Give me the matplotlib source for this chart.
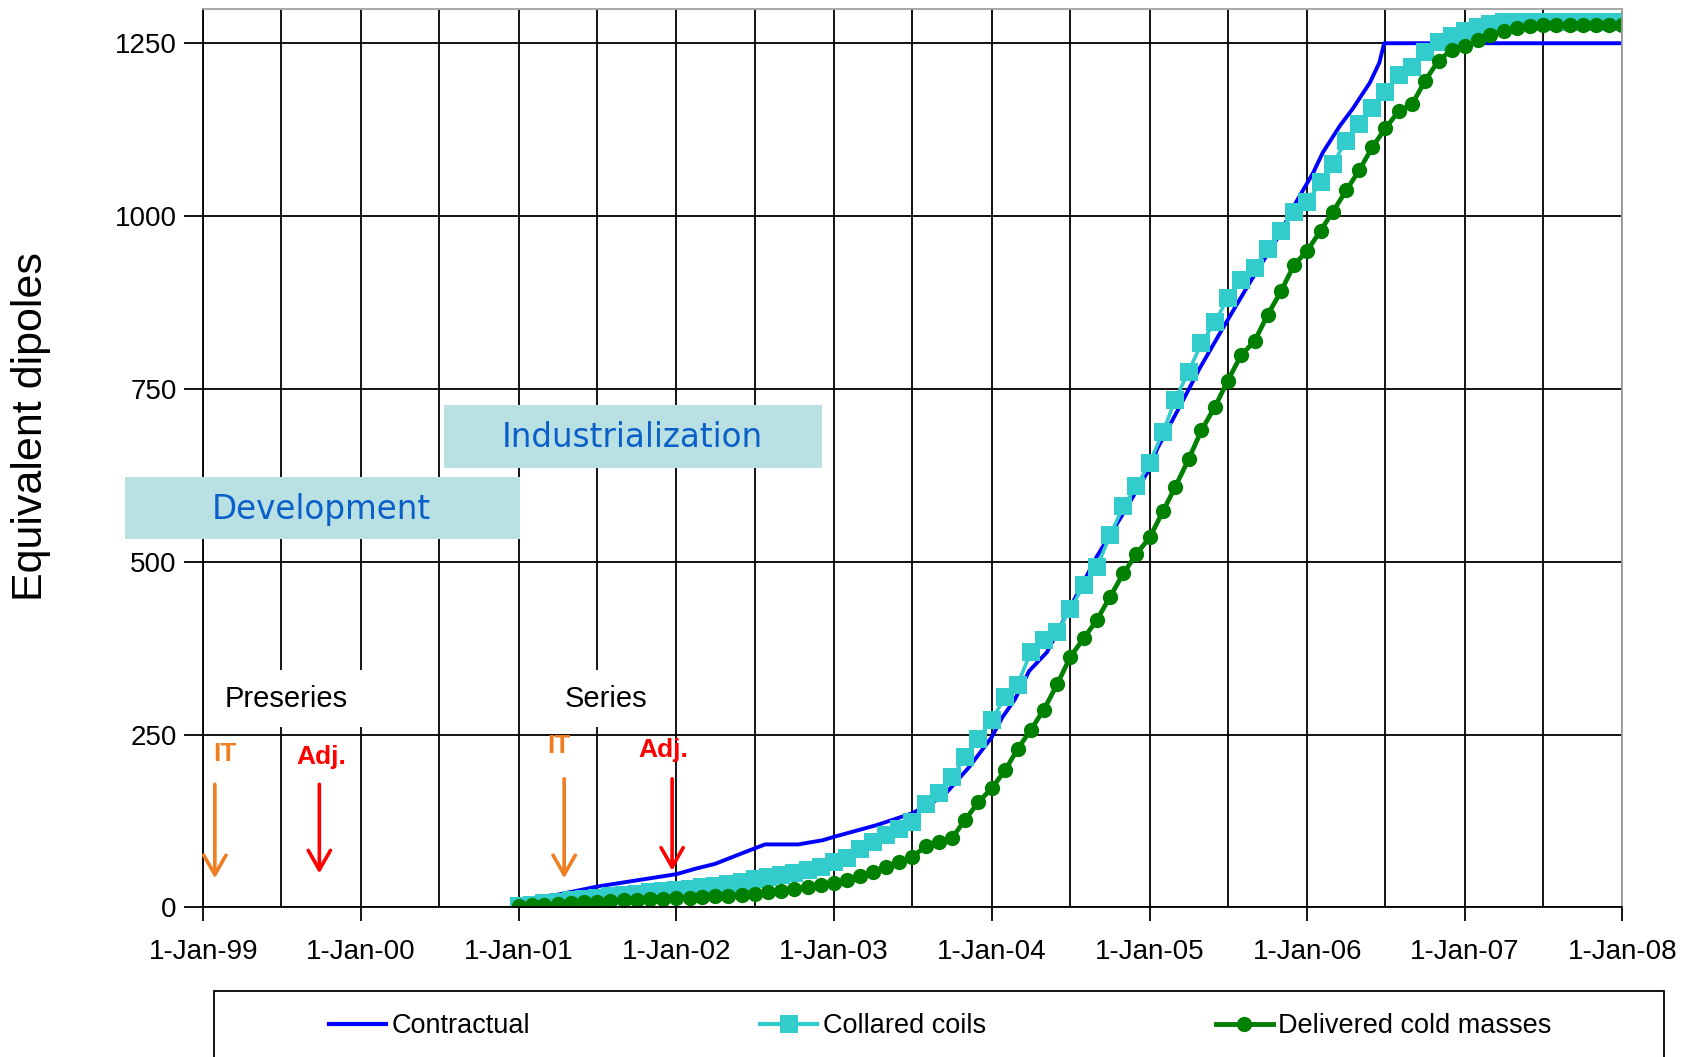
import matplotlib
matplotlib.use('Agg')
import matplotlib.pyplot as plt
import matplotlib.dates as mdates
from matplotlib.patches import Rectangle
from matplotlib.lines import Line2D
from matplotlib.ticker import FuncFormatter
import pandas as pd

plt.rcParams['font.family'] = ['Liberation Sans', 'DejaVu Sans']

# monthly points, Jan 2001 .. Jan 2008
months = pd.date_range('2001-01-01', '2008-01-01', freq='MS')

collared = [2, 4, 6, 8, 10, 12, 14, 16, 18, 20, 22, 23,
            25, 27, 29, 31, 34, 37, 41, 44, 47, 50, 54, 59,
            65, 72, 84, 94, 104, 113, 124, 150, 165, 188, 217, 244,
            271, 304, 322, 370, 386, 399, 431, 466, 492, 538, 580, 609,
            643, 688, 734, 775, 816, 847, 881, 907, 925, 953, 979, 1006,
            1021, 1049, 1075, 1109, 1133, 1156, 1179, 1204, 1215, 1237, 1252, 1260,
            1267, 1273, 1278, 1280, 1280, 1280, 1280, 1280, 1280, 1280, 1280, 1280,
            1280]

delivered = [2, 3, 4, 5, 6, 7, 8, 9, 10, 11, 12, 12,
             13, 14, 15, 16, 17, 18, 20, 22, 24, 27, 30, 33,
             35, 40, 45, 51, 58, 65, 73, 88, 95, 100, 127, 152,
             172, 198, 229, 257, 286, 323, 362, 389, 416, 449, 483, 511,
             535, 573, 608, 648, 690, 724, 762, 799, 819, 857, 891, 929,
             950, 979, 1006, 1037, 1066, 1100, 1127, 1152, 1162, 1196, 1225, 1240,
             1246, 1254, 1262, 1268, 1272, 1275, 1276, 1276, 1277, 1277, 1277, 1277,
             1277]

contract_dates = ['2001-01-01', '2001-01-27', '2001-07-01', '2002-01-01', '2002-02-15',
                  '2002-04-01', '2002-06-01', '2002-07-25', '2002-10-10', '2002-12-05',
                  '2003-01-01', '2003-04-10', '2003-07-01', '2003-09-10', '2003-11-10',
                  '2004-01-01', '2004-01-26', '2004-02-24', '2004-03-28', '2004-05-08',
                  '2004-07-01', '2004-09-01', '2004-10-30', '2005-01-01', '2005-01-19',
                  '2005-03-18', '2005-04-27', '2005-06-28', '2005-08-22', '2005-10-23',
                  '2005-12-06', '2006-01-15', '2006-02-06', '2006-03-18', '2006-04-16',
                  '2006-05-26', '2006-06-17', '2006-06-28', '2008-01-01']
contractual = [6, 10, 30, 48, 56, 63, 78, 91, 91, 97,
               102, 119, 136, 160, 203, 246, 275, 301, 342, 369,
               434, 508, 568, 635, 664, 732, 780, 847, 905, 967,
               1020, 1063, 1092, 1131, 1155, 1193, 1222, 1250, 1250]

# milestone arrows: label, arrow date, text date, colour, text y, arrow from, arrow to
arrows = [('IT', '1999-01-28', '1999-02-20', '#ef7d22', 222, 178, 42),
          ('Adj.', '1999-09-27', '1999-10-01', '#ff0000', 218, 178, 49),
          ('IT', '2001-04-16', '2001-04-03', '#ef7d22', 233, 186, 42),
          ('Adj.', '2001-12-22', '2001-12-01', '#ff0000', 227, 186, 53)]

fig = plt.figure(figsize=(16.94, 10.57), dpi=100)
ax = fig.add_axes([0.11995, 0.1416, 0.83784, 0.8502])

d = lambda s: mdates.date2num(pd.Timestamp(s))

ax.plot(pd.to_datetime(contract_dates), contractual, color='#0000ff', lw=2.8, zorder=2)
ax.plot(months, collared, color='#33cccc', lw=2.6, marker='s', markersize=13,
        markeredgewidth=0, zorder=2.1)
ax.plot(months, delivered, color='#008000', lw=3.4, marker='o', markersize=11,
        markeredgewidth=0, zorder=2.2)

ax.set_xlim(pd.Timestamp('1999-01-01'), pd.Timestamp('2008-01-01'))
ax.set_ylim(0, 1300)
ax.set_yticks([0, 250, 500, 750, 1000, 1250])
ax.xaxis.set_major_locator(mdates.YearLocator())
ax.xaxis.set_minor_locator(mdates.MonthLocator(bymonth=7))
ax.xaxis.set_major_formatter(FuncFormatter(
    lambda v, p: '1-' + mdates.num2date(v).strftime('%b-%y')))

ax.grid(True, which='both', axis='x', color='black', lw=1.3)
ax.grid(True, which='major', axis='y', color='black', lw=1.3)
ax.tick_params(axis='x', which='major', length=10, width=1.3, pad=13, labelsize=20)
ax.tick_params(axis='x', which='minor', length=0)
ax.tick_params(axis='y', length=14, width=1.3, pad=5, labelsize=20)
for s in ['top', 'right']:
    ax.spines[s].set_color('#a0a0a0')
    ax.spines[s].set_linewidth(1.3)
for s in ['left', 'bottom']:
    ax.spines[s].set_linewidth(1.3)

# phase boxes
ax.add_patch(Rectangle((d('1998-07-05'), 533), d('2001-01-03') - d('1998-07-05'), 90,
                       facecolor='#b9e0e3', edgecolor='none', zorder=3, clip_on=False))
ax.text(d('1999-10-01'), 576, 'Development', color='#0b5fc8', fontsize=23.5,
        family='DejaVu Sans', ha='center', va='center', zorder=4)
ax.add_patch(Rectangle((d('2000-07-12'), 636), d('2002-12-03') - d('2000-07-12'), 91,
                       facecolor='#b9e0e3', edgecolor='none', zorder=3, clip_on=False))
ax.text(d('2001-09-20'), 680, 'Industrialization', color='#0b5fc8', fontsize=23.5,
        family='DejaVu Sans', ha='center', va='center', zorder=4)

# preseries / series labels
for lbl, xd in [('Preseries', '1999-07-12'), ('Series', '2001-07-22')]:
    ax.text(d(xd), 302, lbl, fontsize=21, ha='center', va='center', zorder=3,
            bbox=dict(boxstyle='square,pad=0.5', facecolor='white', edgecolor='none'))

for lbl, xa, xt, col, yt, y0, y1 in arrows:
    ax.text(d(xt), yt, lbl, color=col, fontsize=19, fontweight='bold',
            ha='center', va='center', zorder=4)
    ax.annotate('', xy=(d(xa), y1), xytext=(d(xa), y0),
                arrowprops=dict(arrowstyle='->,head_length=0.7,head_width=0.4',
                                color=col, lw=2.6, mutation_scale=20,
                                shrinkA=0, shrinkB=0), zorder=4)

fig.text(0.0185, 0.596, 'Equivalent dipoles', rotation=90, fontsize=31,
         ha='center', va='center')

handles = [Line2D([], [], color='#0000ff', lw=3),
           Line2D([], [], color='#33cccc', lw=3, marker='s', markersize=13, markeredgewidth=0),
           Line2D([], [], color='#008000', lw=3.5, marker='o', markersize=11, markeredgewidth=0)]
fig.legend(handles, ['Contractual', 'Collared coils', 'Delivered cold masses'],
           loc='center', bbox_to_anchor=(0.5552, 0.029), ncol=3, frameon=False,
           fontsize=19.5, handlelength=2.1, handletextpad=0.2, columnspacing=8.5)
fig.patches.append(Rectangle((0.1263, -0.02), 0.856, 0.0824, transform=fig.transFigure,
                             facecolor='none', edgecolor='black', lw=1.3))

fig.savefig('out.png', dpi=100)
